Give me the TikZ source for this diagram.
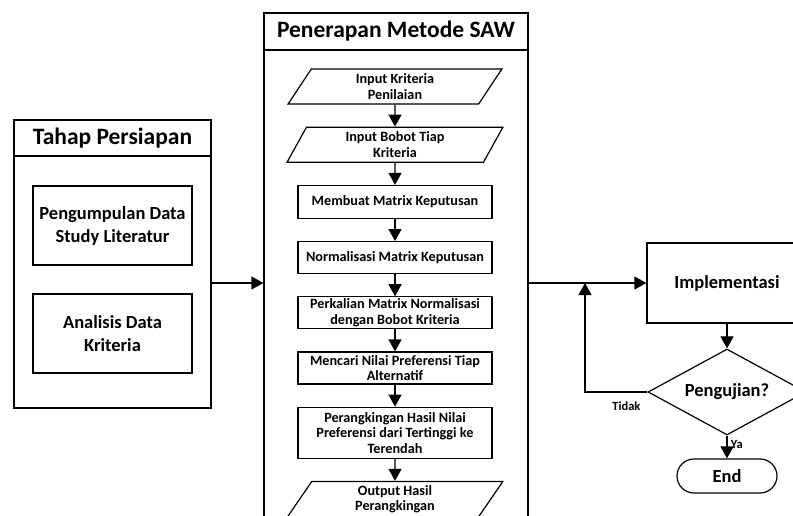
\documentclass[tikz,border=0pt]{standalone}
\usepackage{fontspec}
\setmainfont{Carlito}
\usetikzlibrary{positioning,shapes.geometric,arrows.meta}

\begin{document}
\begin{tikzpicture}[x=1pt,y=-1pt,line width=1.2pt,
    panah/.style={-{Triangle[length=12pt,width=13pt]}},
    wadah/.style={draw,rectangle},
    judul/.style={draw,rectangle,font=\fontsize{23.5}{27}\selectfont\bfseries},
    kotak/.style={draw,rectangle,align=center,minimum width=194,minimum height=33,
      inner sep=0pt,font=\fontsize{14.2}{15.5}\selectfont\bfseries},
    miring/.style={kotak,trapezium,trapezium left angle=67,trapezium right angle=113,
      trapezium stretches=true,minimum width=216,minimum height=35},
    besar/.style={draw,align=center,font=\fontsize{18.5}{23}\selectfont\bfseries},
    kecil/.style={font=\fontsize{12.5}{14}\selectfont\bfseries},
    node distance=22pt]

    \useasboundingbox (0,0) rectangle (793,516);
    \clip (0,0) rectangle (793,516); % the picture is cut at the right and bottom

    % Tahap Persiapan
    \node[wadah,minimum width=197,minimum height=288] (persiapan) at (112.5,264) {};
    \node[judul,minimum width=197,minimum height=36,anchor=north] (judulsiap) at (persiapan.north) {Tahap Persiapan};
    \node[besar,minimum width=159,minimum height=79] (kumpul) at (112.5,225.5) {Pengumpulan Data\\Study Literatur};
    \node[besar,minimum width=159,minimum height=79] (analisis) at (112.5,333.5) {Analisis Data\\Kriteria};

    % Penerapan Metode SAW
    \node[wadah,minimum width=264,minimum height=540] (penerapan) at (396,283) {};
    \node[judul,minimum width=264,minimum height=37,anchor=north] (judulsaw) at (penerapan.north) {Penerapan Metode SAW};
    \node[miring] (kriteria) at (395,86.5) {Input Kriteria\\Penilaian};
    \node[miring,below=of kriteria] (bobot) {Input Bobot Tiap\\Kriteria};
    \node[kotak,below=of bobot] (buat) {Membuat Matrix Keputusan};
    \node[kotak,below=of buat,minimum height=32] (normal) {Normalisasi Matrix Keputusan};
    \node[kotak,below=of normal,minimum height=32] (kali) {Perkalian Matrix Normalisasi\\dengan Bobot Kriteria};
    \node[kotak,below=of kali,minimum height=32] (cari) {Mencari Nilai Preferensi Tiap\\Alternatif};
    \node[kotak,below=of cari,minimum height=51] (rangking) {Perangkingan Hasil Nilai\\Preferensi dari Tertinggi ke\\Terendah};
    \node[miring,below=of rangking,minimum height=36] (hasil) {Output Hasil\\Perangkingan};

    % Implementasi dan pengujian
    \node[besar,minimum width=160,minimum height=80] (impl) at (727,283) {Implementasi};
    \node[besar,diamond,aspect=1.84,minimum width=158,minimum height=86,inner sep=0pt] (uji) at (727,392) {Pengujian?};
    \node[besar,rounded corners=17,minimum width=100,minimum height=34] (selesai) at (727,476) {End};
    \coordinate (balik) at (585,283);

    \draw[panah] (persiapan.east |- penerapan.west) -- (penerapan.west);
    \foreach \a/\b in {kriteria/bobot,bobot/buat,buat/normal,normal/kali,kali/cari,cari/rangking,rangking/hasil}{%
      \draw[panah] (\a) -- (\b);
    }
    \draw[panah] (penerapan.east) -- (impl.west);
    \draw[panah] (impl) -- (uji);
    \draw[panah] (uji) -- node[kecil,right,pos=0.4] (ya) {Ya} (selesai);
    \draw[panah] (uji.west) -| (balik);
    \node[kecil,anchor=north east] (tidak) at ([xshift=-3pt,yshift=-6pt]uji.west) {Tidak};
\end{tikzpicture}
\end{document}
